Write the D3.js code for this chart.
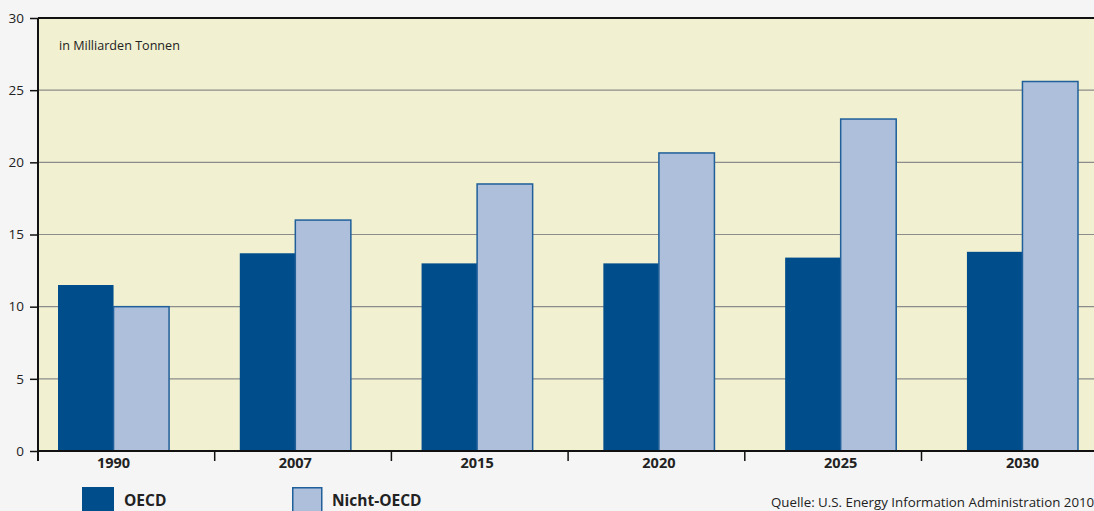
<!DOCTYPE html>
<html>
<head>
<meta charset="utf-8">
<script src="https://cdn.jsdelivr.net/npm/d3@7"></script>
<style>
  body { margin: 0; background: #f5f5f5; }
  svg { display: block; font-family: "Open Sans", "DejaVu Sans", sans-serif; }
</style>
</head>
<body>
<script>
const years = ["1990", "2007", "2015", "2020", "2025", "2030"];
const seriesNames = ["OECD", "Nicht-OECD"];
const oecd = [11.5, 13.7, 13.0, 13.0, 13.4, 13.8];
const nichtOecd = [10.0, 16.0, 18.5, 20.65, 23.0, 25.6];
const yTicks = [0, 5, 10, 15, 20, 25, 30];

const colors = { "OECD": "#004d8c", "Nicht-OECD": "#adbfda" };

const svg = d3.select("body")
    .append("svg")
    .attr("width", 1094)
    .attr("height", 511);

const plotLeft = 38, plotTop = 18, plotBottom = 451, plotRight = 1100;

const y = d3.scaleLinear().domain([0, 30]).range([plotBottom, plotTop]);

const x0 = d3.scaleBand()
    .domain(years)
    .range([58, 1078])
    .paddingInner(0.389)
    .paddingOuter(0);

const x1 = d3.scaleBand()
    .domain(seriesNames)
    .range([0, x0.bandwidth()]);

// tick marks on the x axis sit on a slightly narrower grid than the bars
const xTickScale = d3.scaleLinear().domain([0, 6]).range([plotLeft, plotLeft + 6 * 176.7]);

// plot background
svg.append("rect")
    .attr("x", plotLeft)
    .attr("y", plotTop)
    .attr("width", plotRight - plotLeft)
    .attr("height", plotBottom - plotTop)
    .attr("fill", "#f1f0d0");

// gridlines
svg.append("g")
    .selectAll("line")
    .data(yTicks.filter(d => d > 0 && d < 30))
    .join("line")
    .attr("x1", plotLeft)
    .attr("x2", plotRight)
    .attr("y1", d => y(d))
    .attr("y2", d => y(d))
    .attr("stroke", "#8c8c8c")
    .attr("stroke-width", 1.2);

const rows = years.map((yr, i) => ({ year: yr, values: [
    { key: "OECD", value: oecd[i] },
    { key: "Nicht-OECD", value: nichtOecd[i] }
]}));

const groups = svg.append("g")
    .selectAll("g")
    .data(rows)
    .join("g")
    .attr("transform", d => `translate(${x0(d.year)},0)`);

groups.selectAll("rect")
    .data(d => d.values)
    .join("rect")
    .attr("x", d => x1(d.key))
    .attr("y", d => y(d.value))
    .attr("width", x1.bandwidth())
    .attr("height", d => y(0) - y(d.value))
    .attr("fill", d => colors[d.key])
    .attr("stroke", d => d.key === "OECD" ? "none" : "#1f5f9a")
    .attr("stroke-width", 1.5);

// top border line
svg.append("line")
    .attr("x1", plotLeft).attr("x2", plotRight)
    .attr("y1", plotTop).attr("y2", plotTop)
    .attr("stroke", "#111").attr("stroke-width", 2);

// y axis
const yAxis = d3.axisLeft(y)
    .tickValues(yTicks)
    .tickSize(8)
    .tickPadding(6);

svg.append("g")
    .attr("transform", `translate(${plotLeft},0)`)
    .call(yAxis)
    .call(g => g.select(".domain").attr("stroke", "#111").attr("stroke-width", 2).attr("d", `M0,${plotTop}V${plotBottom + 10}`))
    .call(g => g.selectAll(".tick line").attr("stroke", "#111").attr("stroke-width", 1.5))
    .call(g => g.selectAll(".tick text")
        .attr("font-size", 13.5)
        .attr("fill", "#222")
        .attr("font-family", "\"Open Sans\", sans-serif"));

// x axis baseline and ticks
svg.append("line")
    .attr("x1", plotLeft).attr("x2", plotRight)
    .attr("y1", plotBottom).attr("y2", plotBottom)
    .attr("stroke", "#111").attr("stroke-width", 2);

svg.append("g")
    .selectAll("line")
    .data(d3.range(1, 7))
    .join("line")
    .attr("x1", d => xTickScale(d))
    .attr("x2", d => xTickScale(d))
    .attr("y1", plotBottom)
    .attr("y2", plotBottom + 10)
    .attr("stroke", "#111")
    .attr("stroke-width", 1.5);

svg.append("g")
    .selectAll("text")
    .data(years)
    .join("text")
    .attr("x", d => x0(d) + x0.bandwidth() / 2)
    .attr("y", 468)
    .attr("text-anchor", "middle")
    .attr("font-size", 14.5)
    .attr("font-weight", "bold")
    .attr("fill", "#222")
    .text(d => d);

// unit label
svg.append("text")
    .attr("x", 59)
    .attr("y", 50)
    .attr("font-size", 12.6)
    .attr("fill", "#222")
    .text("in Milliarden Tonnen");

// legend
const legend = [
    { key: "OECD", x: 82 },
    { key: "Nicht-OECD", x: 292 }
];

svg.append("g")
    .selectAll("rect")
    .data(legend)
    .join("rect")
    .attr("x", d => d.key === "OECD" ? d.x : d.x + 0.75)
    .attr("y", d => d.key === "OECD" ? 487 : 487.75)
    .attr("width", d => d.key === "OECD" ? 32 : 29)
    .attr("height", 24)
    .attr("fill", d => colors[d.key])
    .attr("stroke", d => d.key === "OECD" ? "none" : "#1f5f9a")
    .attr("stroke-width", 1.5);

svg.append("g")
    .selectAll("text")
    .data(legend)
    .join("text")
    .attr("x", d => d.key === "OECD" ? 124 : 332)
    .attr("y", 506)
    .attr("font-size", 15.5)
    .attr("font-weight", "bold")
    .attr("fill", "#222")
    .text(d => d.key);

// source
svg.append("text")
    .attr("x", 771)
    .attr("y", 507)
    .attr("font-size", 13.3)
    .attr("fill", "#222")
    .text("Quelle: U.S. Energy Information Administration 2010");
</script>
</body>
</html>
